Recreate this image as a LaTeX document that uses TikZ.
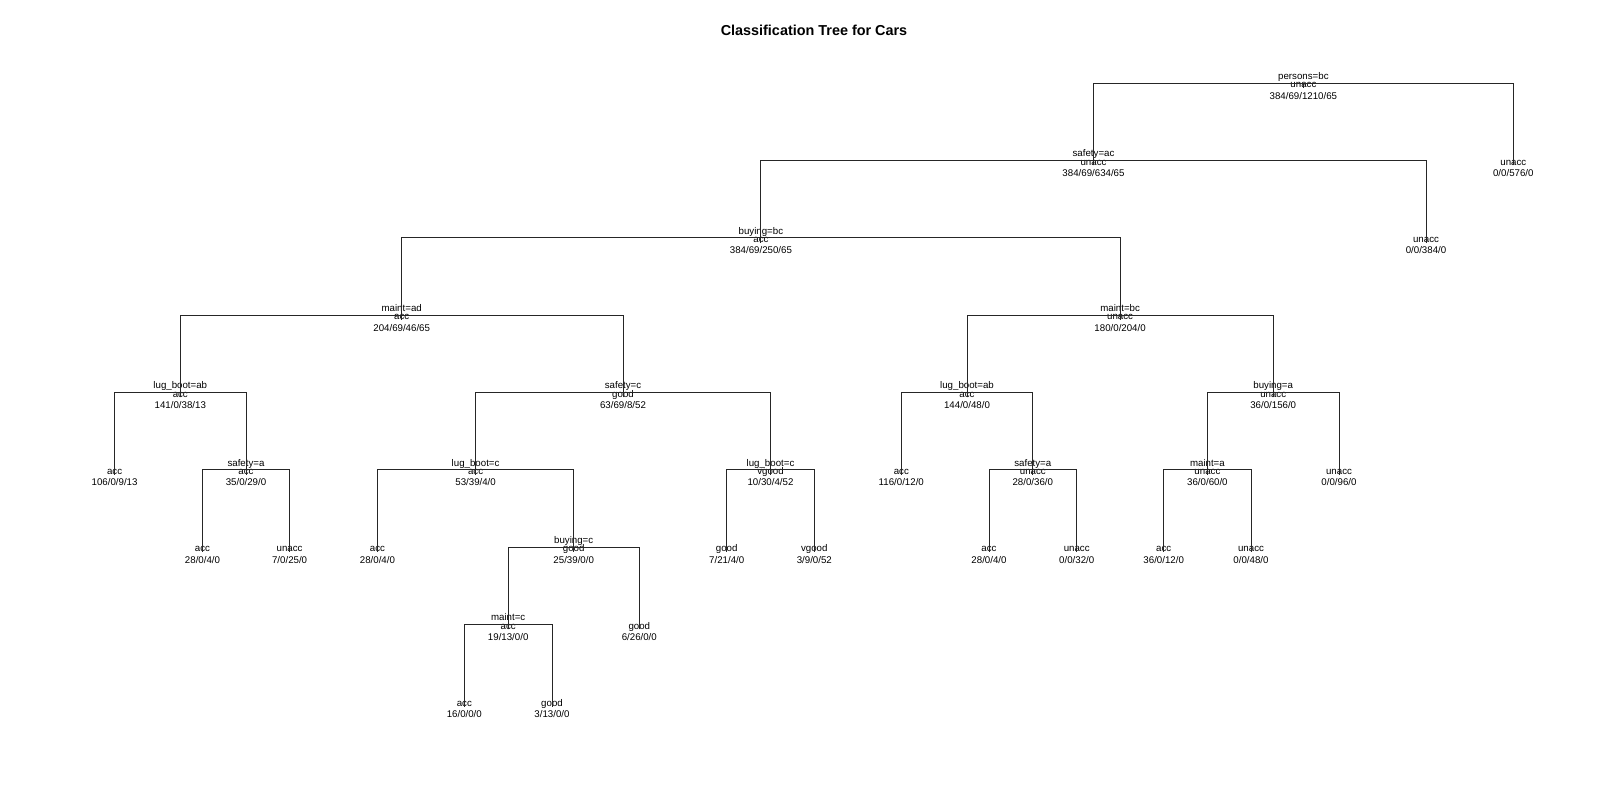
\documentclass[tikz,border=0pt]{standalone}
\usepackage{fontspec}
\setmainfont{Liberation Sans}
\usetikzlibrary{calc}
\tikzset{
  lbl/.style={inner sep=0pt, anchor=base, font=\fontsize{9.7bp}{11bp}\selectfont},
  splitlbl/.style={lbl},
  classlbl/.style={lbl},
  countlbl/.style={lbl},
  branch/.style={draw=black!85, line width=0.9bp},
  titlelbl/.style={inner sep=0pt, anchor=base, font=\fontsize{14.4bp}{16bp}\selectfont\bfseries}
}
\newcommand\INode[6]{%
  \coordinate (#1) at (#2,{712-77.33*#3});
  \node[splitlbl] (#1-s) at ($(#1)+(0,8.5)$) {#4};
  \node[classlbl] (#1-c) at (#1) {#5};
  \node[countlbl] (#1-n) at ($(#1)+(0,-11.2)$) {#6};}
\newcommand\LNode[5]{%
  \coordinate (#1) at (#2,{712-77.33*#3});
  \node[classlbl] (#1-c) at (#1) {#4};
  \node[countlbl] (#1-n) at ($(#1)+(0,-11.2)$) {#5};}
\newcommand\Edge[2]{\draw[branch] (#2) |- ($(#1)+(0,5)$);}
\begin{document}
\begin{tikzpicture}[x=1bp,y=1bp]
\useasboundingbox (0,0) rectangle (1600,800);
\node[titlelbl] (title) at (814,764.7) {Classification Tree for Cars};
\INode{r}{1303.4}{0}{persons=bc}{unacc}{384/69/1210/65}
\INode{a}{1093.5}{1}{safety=ac}{unacc}{384/69/634/65}
\LNode{l17}{1513.3}{1}{unacc}{0/0/576/0}
\INode{b}{760.9}{2}{buying=bc}{acc}{384/69/250/65}
\LNode{l16}{1426}{2}{unacc}{0/0/384/0}
\INode{c}{401.7}{3}{maint=ad}{acc}{204/69/46/65}
\INode{d}{1120.1}{3}{maint=bc}{unacc}{180/0/204/0}
\INode{e}{180.3}{4}{lug\_boot=ab}{acc}{141/0/38/13}
\INode{f}{623}{4}{safety=c}{good}{63/69/8/52}
\INode{g}{967}{4}{lug\_boot=ab}{acc}{144/0/48/0}
\INode{h}{1273.2}{4}{buying=a}{unacc}{36/0/156/0}
\LNode{l1}{114.6}{5}{acc}{106/0/9/13}
\INode{i}{246}{5}{safety=a}{acc}{35/0/29/0}
\INode{j}{475.6}{5}{lug\_boot=c}{acc}{53/39/4/0}
\INode{k}{770.5}{5}{lug\_boot=c}{vgood}{10/30/4/52}
\LNode{l10}{901.3}{5}{acc}{116/0/12/0}
\INode{m}{1032.8}{5}{safety=a}{unacc}{28/0/36/0}
\INode{n}{1207.4}{5}{maint=a}{unacc}{36/0/60/0}
\LNode{l15}{1339}{5}{unacc}{0/0/96/0}
\LNode{l2}{202.5}{6}{acc}{28/0/4/0}
\LNode{l3}{289.6}{6}{unacc}{7/0/25/0}
\LNode{l4}{377.4}{6}{acc}{28/0/4/0}
\INode{o}{573.7}{6}{buying=c}{good}{25/39/0/0}
\LNode{l8}{726.7}{6}{good}{7/21/4/0}
\LNode{l9}{814.3}{6}{vgood}{3/9/0/52}
\LNode{l11}{989}{6}{acc}{28/0/4/0}
\LNode{l12}{1076.7}{6}{unacc}{0/0/32/0}
\LNode{l13}{1163.7}{6}{acc}{36/0/12/0}
\LNode{l14}{1251}{6}{unacc}{0/0/48/0}
\INode{p}{508.2}{7}{maint=c}{acc}{19/13/0/0}
\LNode{l7}{639.3}{7}{good}{6/26/0/0}
\LNode{l5}{464.3}{8}{acc}{16/0/0/0}
\LNode{l6}{552}{8}{good}{3/13/0/0}
% branches
\draw[branch] (r) -- ($(r)+(0,5)$);
\Edge{r}{a}\Edge{r}{l17}
\Edge{a}{b}\Edge{a}{l16}
\Edge{b}{c}\Edge{b}{d}
\Edge{c}{e}\Edge{c}{f}
\Edge{d}{g}\Edge{d}{h}
\Edge{e}{l1}\Edge{e}{i}
\Edge{i}{l2}\Edge{i}{l3}
\Edge{f}{j}\Edge{f}{k}
\Edge{j}{l4}\Edge{j}{o}
\Edge{o}{p}\Edge{o}{l7}
\Edge{p}{l5}\Edge{p}{l6}
\Edge{k}{l8}\Edge{k}{l9}
\Edge{g}{l10}\Edge{g}{m}
\Edge{m}{l11}\Edge{m}{l12}
\Edge{h}{n}\Edge{h}{l15}
\Edge{n}{l13}\Edge{n}{l14}
\end{tikzpicture}
\end{document}
